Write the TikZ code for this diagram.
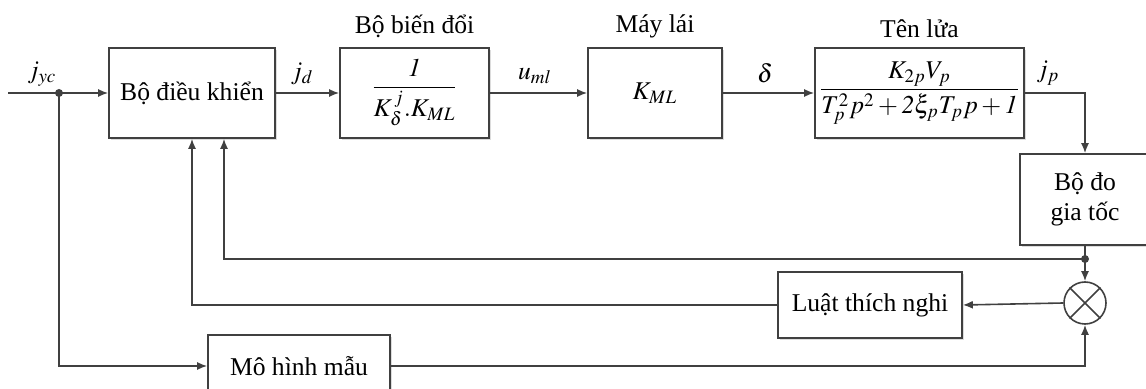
\documentclass[tikz,border=0pt]{standalone}
\usepackage{amsmath}
\usepackage{mathptmx}
\usepackage[no-math]{fontspec}
\setmainfont{Liberation Serif}
\definecolor{linegray}{HTML}{404040}
\definecolor{shadegray}{HTML}{DCDCDC}
\usetikzlibrary{arrows.meta,positioning,calc,shadows}

\begin{document}
\begin{tikzpicture}[x=0.5pt,y=-0.5pt,
  font=\fontsize{12.8}{15}\selectfont,
  block/.style={draw=linegray, line width=0.8pt, fill=white, align=center,
    drop shadow={shadow xshift=1pt, shadow yshift=-1pt, fill=shadegray, opacity=1}},
  link/.style={draw=linegray, line width=0.8pt},
  arr/.style={link, -{Latex[length=5pt,width=4pt]}},
  dot/.style={circle, fill=linegray, inner sep=0pt, minimum size=4pt}]
\useasboundingbox (0,0) rectangle (1146,389);

% forward path
\node[block, minimum width=83pt, minimum height=45pt] (ctrl) at (192,93) {Bộ điều khiển};
\node[block, minimum width=74.5pt, minimum height=45pt] (conv) at (414.5,93)
  {$\dfrac{\mathit{1}}{K_\delta^{\,j}.K_{ML}}$};
\node[block, minimum width=67pt, minimum height=45pt] (servo) at (655,93) {$K_{ML}$};
\node[block, minimum width=99.5pt, minimum height=45pt, inner sep=2pt] (missile) at (919.5,93)
  {$\dfrac{K_{2p}V_p}{T_p^2p^2+\mathit{2}\xi_pT_pp+\mathit{1}}$};
\node[block, minimum width=65pt, minimum height=45.5pt] (accel) at (1085,199.5) {Bộ đo\\gia tốc};

% adaptive loop
\node[draw=linegray, line width=0.8pt, circle, minimum size=21pt, inner sep=0pt] (sum) at (1085,303) {};
\draw[link] (sum.north west) -- (sum.south east);
\draw[link] (sum.north east) -- (sum.south west);
\node[block, minimum width=92pt, minimum height=33pt] (adapt) at (870,305) {Luật thích nghi};
\node[block, minimum width=91pt, minimum height=31pt] (model) at (299,366) {Mô hình mẫu};

% titles
\node[above=1pt of conv] (convtitle) {Bộ biến đổi};
\node[above=1pt of servo] (servotitle) {Máy lái};
\node[above=1pt of missile] (missiletitle) {Tên lửa};

% signals
\coordinate (in) at (8,93);
\node[dot] (split) at (59,93) {};
\node[dot] (tap) at (1085,259) {};
\draw[arr] (in) -- (ctrl.west);
\draw[arr] (ctrl.east) -- (conv.west);
\draw[arr] (conv.east) -- (servo.west);
\draw[arr] (servo.east) -- (missile.west);
\draw[arr] (missile.east) -| (accel.north);
\draw[arr] (accel.south) -- (sum.north);
\draw[arr] (tap.center) -| ($(ctrl.south)+(32,0)$);
\draw[arr] (sum.west) -- (adapt.east);
\draw[arr] (adapt.west) -| (ctrl.south);
\draw[arr] (split.center) |- (model.west);
\draw[arr] (model.east) -| (sum.south);

\node (jyc) at (42,74) {$j_{yc}$};
\node (jd) at (302,74) {$j_d$};
\node (uml) at (535,76) {$u_{ml}$};
\node (dlt) at (765,73) {$\delta$};
\node (jp) at (1048,73) {$j_p$};
\end{tikzpicture}
\end{document}
